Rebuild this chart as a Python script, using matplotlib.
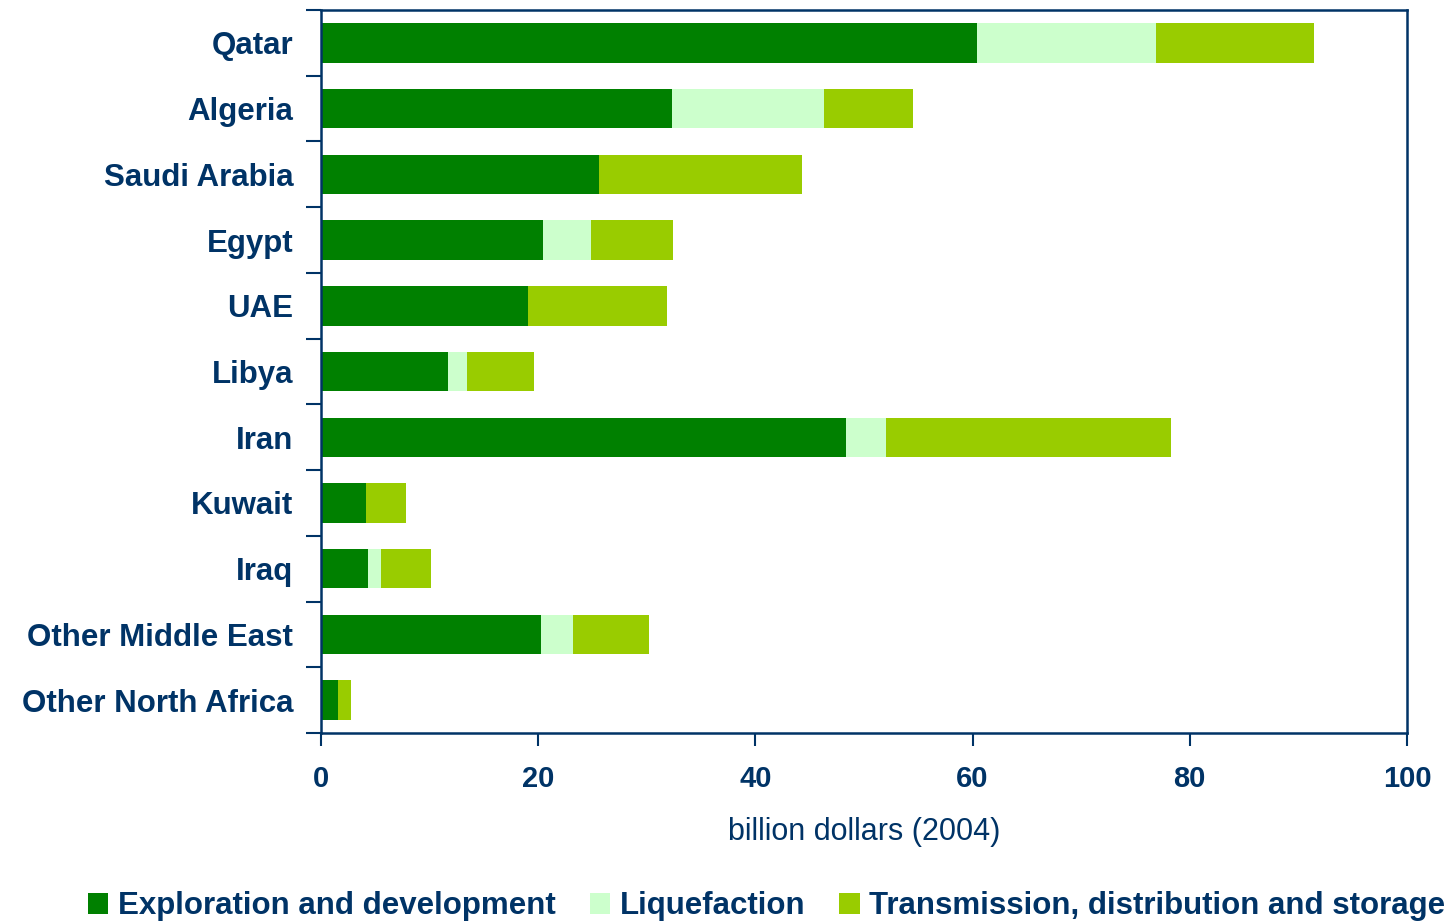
import matplotlib
matplotlib.use("Agg")
import matplotlib.pyplot as plt
import numpy as np
from matplotlib.ticker import FixedLocator, NullFormatter

plt.rcParams["font.family"] = ["Liberation Sans", "DejaVu Sans"]

countries = ["Qatar", "Algeria", "Saudi Arabia", "Egypt", "UAE", "Libya", "Iran",
             "Kuwait", "Iraq", "Other Middle East", "Other North Africa"]
exploration = [60.4, 32.3, 25.6, 20.4, 19.1, 11.7, 48.3, 4.1, 4.3, 20.3, 1.6]
liquefaction = [16.5, 14.0, 0.0, 4.5, 0.0, 1.7, 3.7, 0.0, 1.2, 2.9, 0.0]
transmission = [14.5, 8.2, 18.7, 7.5, 12.8, 6.2, 26.3, 3.7, 4.6, 7.0, 1.2]
series_names = ["Exploration and development", "Liquefaction",
                "Transmission, distribution and storage"]
colors = ["#008000", "#CCFFCC", "#99CC00"]
navy = "#003366"

fig = plt.figure(figsize=(14.52, 9.21), dpi=100)
ax = fig.add_axes([0.2211, 0.2041, 0.969 - 0.2211, 0.9891 - 0.2041])

y = np.arange(len(countries))
left = np.zeros(len(countries))
for vals, name, c in zip([exploration, liquefaction, transmission], series_names, colors):
    ax.barh(y, vals, left=left, height=0.6, color=c, label=name, linewidth=0)
    left += np.array(vals)

ax.set_ylim(len(countries) - 0.5, -0.5)
ax.set_xlim(0, 100)
ax.set_xticks(np.arange(0, 101, 20))
ax.set_yticks(y)
ax.set_yticklabels(countries)
ax.yaxis.set_minor_locator(FixedLocator(np.arange(-0.5, len(countries), 1)))
ax.yaxis.set_minor_formatter(NullFormatter())
ax.tick_params(axis="y", which="major", length=0, pad=20)
ax.tick_params(axis="y", which="minor", length=11, width=1.5, color=navy)
ax.tick_params(axis="x", length=9, width=1.5, color=navy, pad=14)
for lab in ax.get_yticklabels():
    lab.set_fontsize(22.5)
for lab in ax.get_xticklabels():
    lab.set_fontsize(21)
for lab in ax.get_yticklabels() + ax.get_xticklabels():
    lab.set_fontweight("bold")
    lab.set_color(navy)
for s in ax.spines.values():
    s.set_color(navy)
    s.set_linewidth(1.8)

ax.set_xlabel("billion dollars (2004)", fontsize=22, color=navy, labelpad=17)

fig.legend(loc="center", bbox_to_anchor=(0.528, 0.016), ncol=3, frameon=False,
           handlelength=0.65, handleheight=0.65, handletextpad=0.3, columnspacing=1.1,
           prop={"size": 22.5, "weight": "bold"}, labelcolor=navy)

fig.savefig("out.png", dpi=100)
